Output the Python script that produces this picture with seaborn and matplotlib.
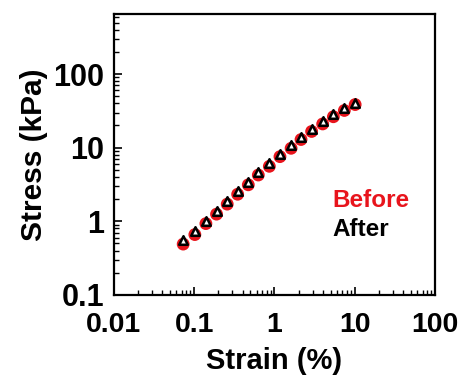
import matplotlib
matplotlib.use("Agg")
import matplotlib.pyplot as plt
import seaborn as sns
import pandas as pd
import numpy as np
from matplotlib.ticker import LogLocator, NullFormatter, FixedLocator, FixedFormatter

strain = [0.073, 0.102, 0.14, 0.19, 0.258, 0.348, 0.472, 0.629, 0.863, 1.17,
          1.61, 2.14, 2.90, 3.98, 5.41, 7.41, 10.1]
stress_before = [0.49, 0.66, 0.93, 1.25, 1.71, 2.33, 3.13, 4.25, 5.58, 7.55,
                 9.8, 12.9, 16.6, 21.0, 26.3, 32.0, 38.5]
stress_after = [0.55, 0.74, 1.02, 1.38, 1.88, 2.55, 3.42, 4.65, 6.10, 8.20,
                10.8, 14.1, 18.0, 22.8, 28.5, 34.5, 41.0]
x_ticks = [0.01, 0.1, 1, 10, 100]
x_tick_labels = ["0.01", "0.1", "1", "10", "100"]
y_ticks = [0.1, 1, 10, 100]
y_tick_labels = ["0.1", "1", "10", "100"]

sns.set_style("ticks")
plt.rcParams['font.family'] = ['Liberation Sans', 'DejaVu Sans']
plt.rcParams['font.weight'] = 'bold'
plt.rcParams['text.color'] = 'black'
plt.rcParams['axes.labelcolor'] = 'black'
plt.rcParams['xtick.color'] = 'black'
plt.rcParams['ytick.color'] = 'black'

df = pd.DataFrame({
    "strain": strain + strain,
    "stress": stress_before + stress_after,
    "group": ["Before"] * len(strain) + ["After"] * len(strain),
})

fig = plt.figure(figsize=(4.59, 3.83), dpi=100)
ax = fig.add_axes([0.248, 0.230, 0.700, 0.733])

sns.scatterplot(data=df[df.group == "Before"], x="strain", y="stress", ax=ax,
                color="#e8141c", marker="o", s=85, edgecolor="none", legend=False, zorder=2)
sns.scatterplot(data=df[df.group == "After"], x="strain", y="stress", ax=ax,
                marker="^", s=38, facecolor="white", edgecolor="black",
                linewidth=1.8, legend=False, zorder=3)

ax.set_xscale("log")
ax.set_yscale("log")
ax.set_xlim(0.01, 100)
ax.set_ylim(0.1, 650)

ax.xaxis.set_major_locator(FixedLocator(x_ticks))
ax.xaxis.set_major_formatter(FixedFormatter(x_tick_labels))
ax.yaxis.set_major_locator(FixedLocator(y_ticks))
ax.yaxis.set_major_formatter(FixedFormatter(y_tick_labels))
ax.xaxis.set_minor_locator(LogLocator(base=10, subs=np.arange(2, 10), numticks=20))
ax.yaxis.set_minor_locator(LogLocator(base=10, subs=np.arange(2, 10), numticks=20))
ax.xaxis.set_minor_formatter(NullFormatter())
ax.yaxis.set_minor_formatter(NullFormatter())

ax.tick_params(axis="both", which="major", direction="in", length=6, width=1.2,
               colors="black")
ax.tick_params(axis="x", which="major", labelsize=20.5, pad=12)
ax.tick_params(axis="y", which="major", labelsize=22, pad=7)
ax.tick_params(axis="both", which="minor", direction="in", length=3.5, width=1.0)
for lab in ax.get_xticklabels() + ax.get_yticklabels():
    lab.set_fontweight("bold")

for sp in ax.spines.values():
    sp.set_linewidth(1.6)
    sp.set_color("black")

ax.set_xlabel("Strain (%)", fontsize=21, fontweight="bold", labelpad=7)
ax.set_ylabel("Stress (kPa)", fontsize=21.5, fontweight="bold", labelpad=4)

ax.text(0.681, 0.335, "Before", transform=ax.transAxes, color="#e8141c",
        fontsize=17.5, fontweight="bold", va="center", ha="left")
ax.text(0.681, 0.232, "After", transform=ax.transAxes, color="black",
        fontsize=17.5, fontweight="bold", va="center", ha="left")

fig.savefig("out.png", dpi=100, facecolor="white")
